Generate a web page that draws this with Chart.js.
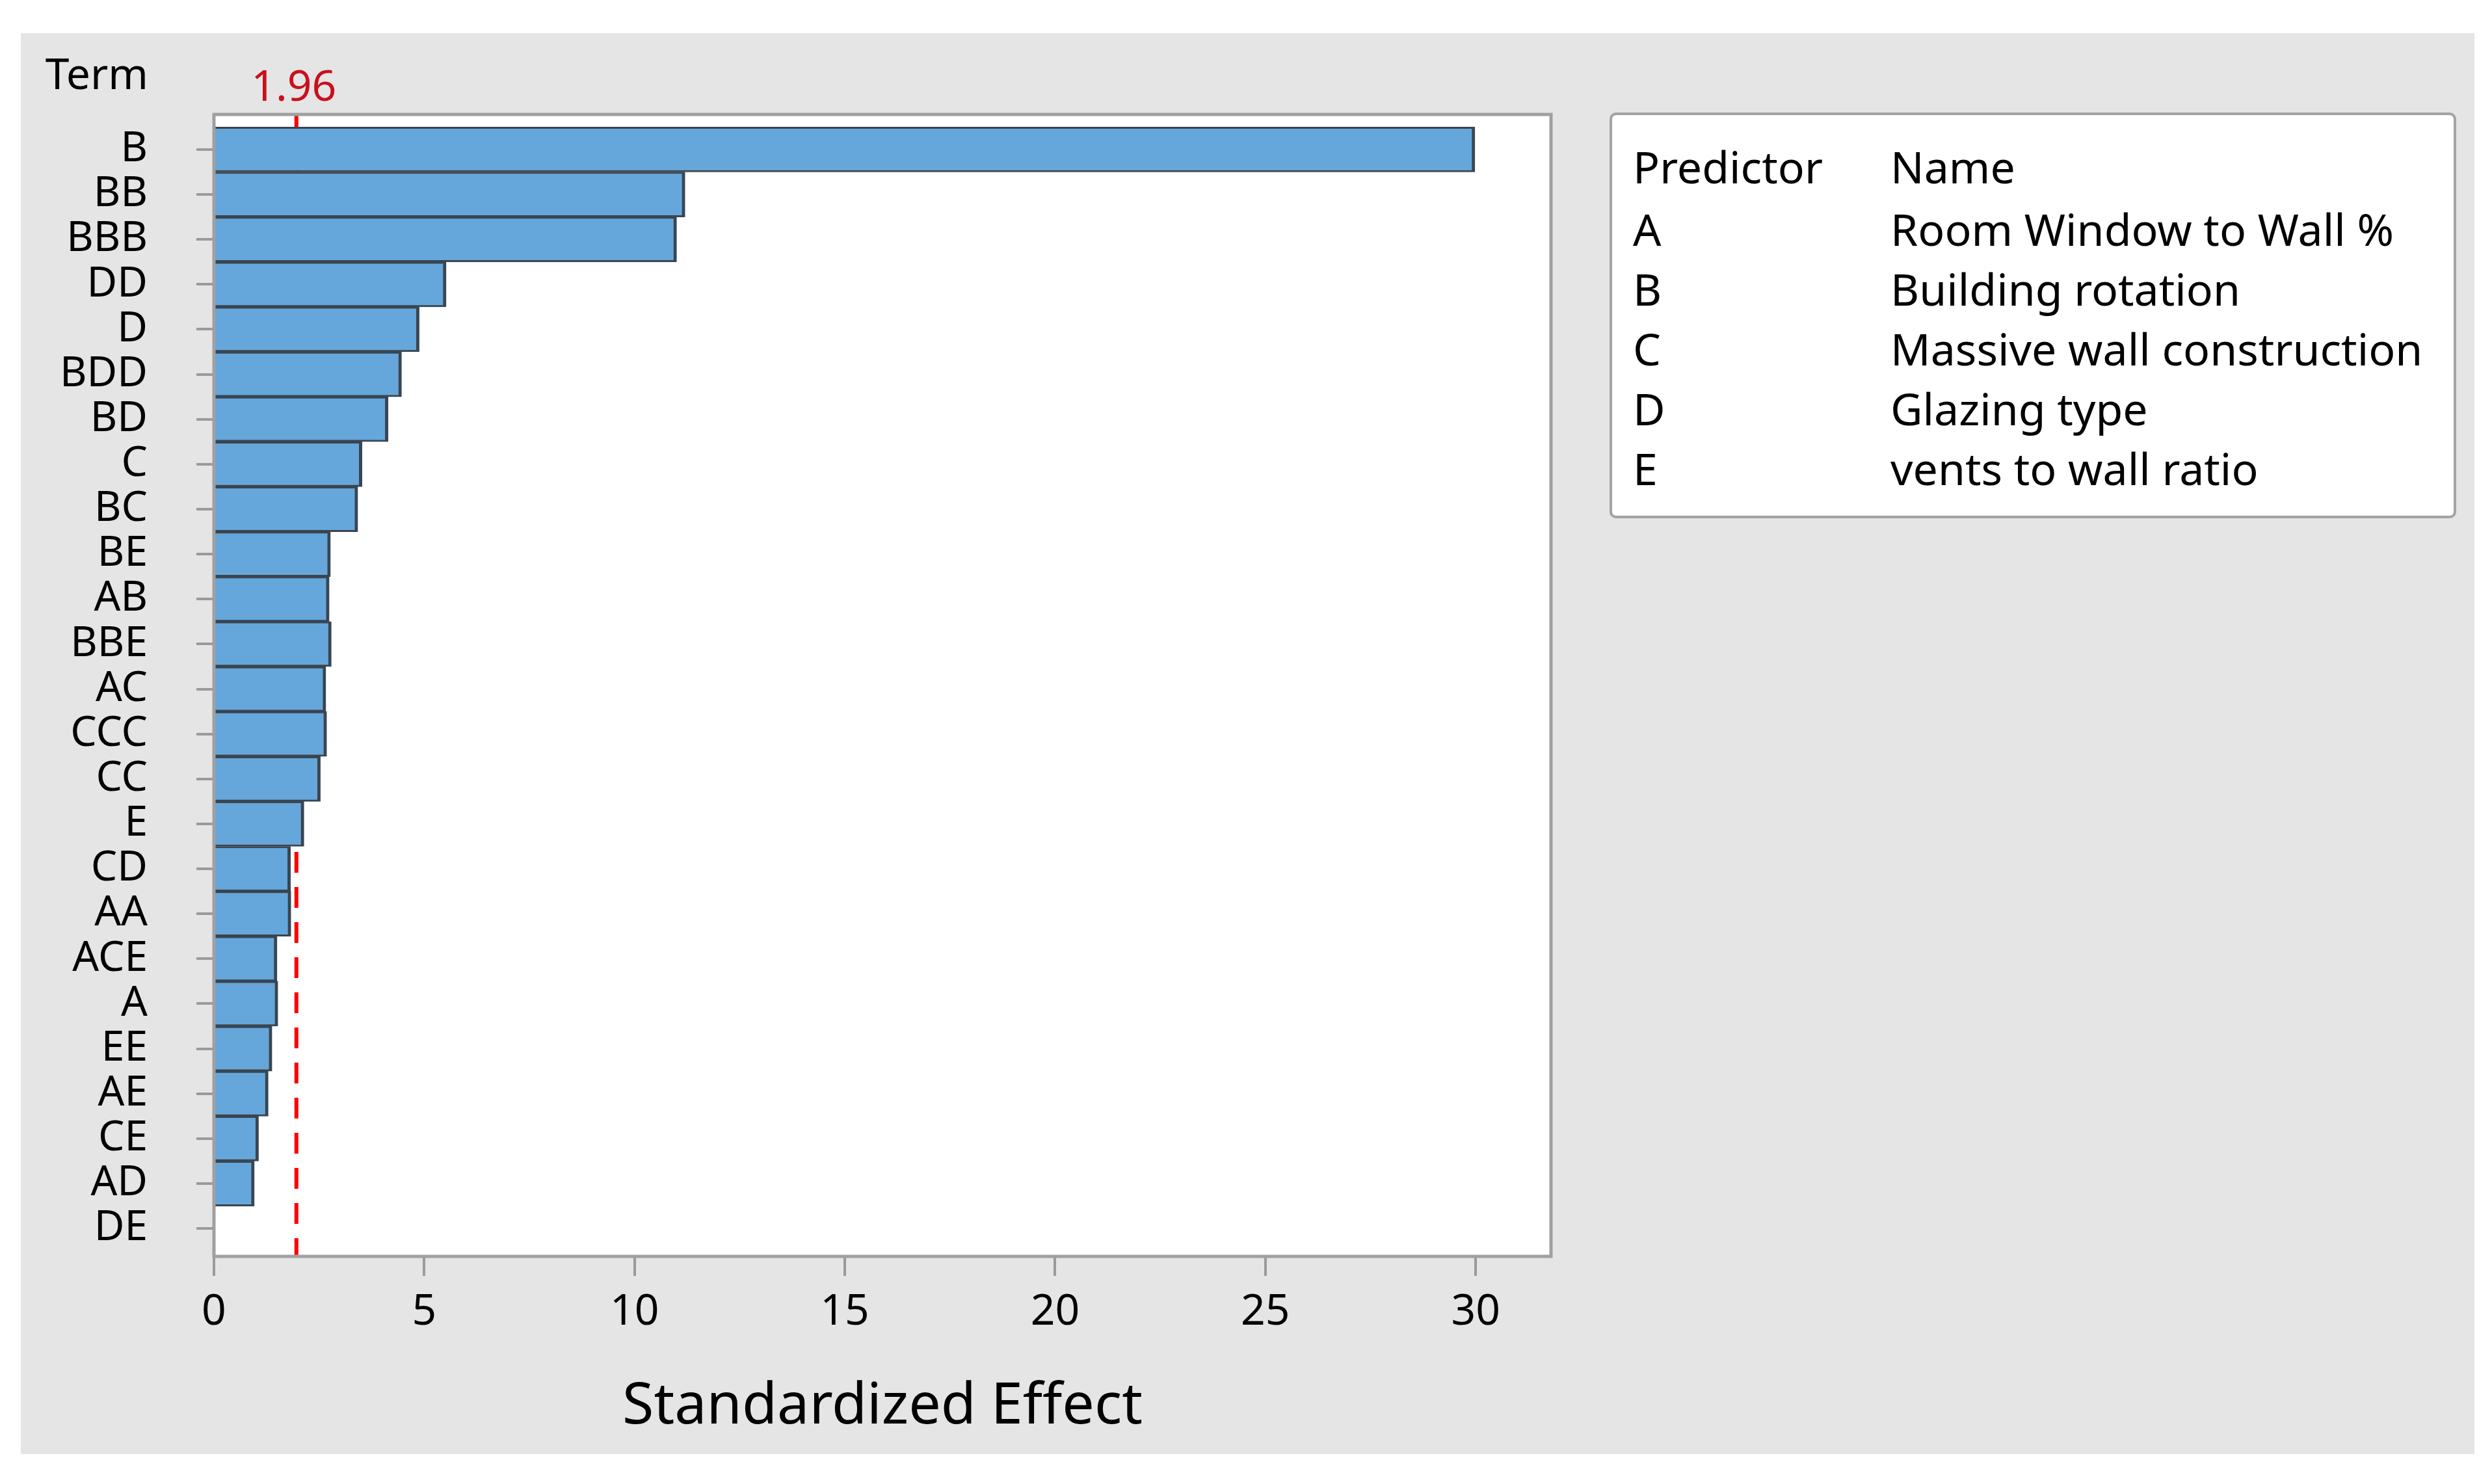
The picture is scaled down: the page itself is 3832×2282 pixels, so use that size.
<!DOCTYPE html>
<html lang="en">
<head>
  <meta charset="UTF-8">
  <title>Pareto Chart of the Standardized Effects</title>
  <script src="https://cdn.jsdelivr.net/npm/chart.js"></script>
  <style>
    body { margin: 0; background: #fff; }
    canvas { display: block; }
  </style>
</head>
<body>
  <canvas id="pareto" width="3832" height="2282"></canvas>

  <script>
    // terms, top to bottom
    const terms = ['B', 'BB', 'BBB', 'DD', 'D', 'BDD', 'BD', 'C', 'BC', 'BE', 'AB', 'BBE', 'AC',
                   'CCC', 'CC', 'E', 'CD', 'AA', 'ACE', 'A', 'EE', 'AE', 'CE', 'AD', 'DE'];
    const effects = [29.98, 11.2, 11.0, 5.52, 4.88, 4.46, 4.14, 3.52, 3.42, 2.77, 2.74, 2.79, 2.66,
                     2.68, 2.53, 2.14, 1.82, 1.83, 1.50, 1.52, 1.38, 1.29, 1.06, 0.96, 0.03];
    const refValue = 1.96;
    const xTicks = [0, 5, 10, 15, 20, 25, 30];

    const predictorCodes = ['A', 'B', 'C', 'D', 'E'];
    const predictorNames = ['Room Window to Wall %', 'Building rotation', 'Massive wall construction',
                            'Glazing type', 'vents to wall ratio'];

    const FONT = '"Noto Sans", "Open Sans", sans-serif';

    const backdrop = {
      id: 'backdrop',
      beforeDraw(chart) {
        const { ctx, chartArea: a } = chart;
        ctx.save();
        ctx.fillStyle = '#e5e5e5';
        ctx.fillRect(32, 51, 3773, 2185);
        ctx.fillStyle = '#fff';
        ctx.fillRect(a.left, a.top, a.right - a.left, a.bottom - a.top);

        // predictor table box
        ctx.beginPath();
        ctx.roundRect(2477, 175, 1298, 620, 8);
        ctx.fill();
        ctx.lineWidth = 4;
        ctx.strokeStyle = '#a3a3a3';
        ctx.stroke();

        ctx.fillStyle = '#000';
        ctx.font = '68px ' + FONT;
        ctx.textBaseline = 'alphabetic';
        ctx.textAlign = 'left';
        ctx.fillText('Predictor', 2511, 282);
        ctx.fillText('Name', 2907, 282);
        predictorCodes.forEach((c, i) => {
          const y = 378 + i * 92;
          ctx.fillText(c, 2511, y);
          ctx.fillText(predictorNames[i], 2907, y);
        });
        ctx.restore();
      },
      beforeDatasetsDraw(chart) {
        const { ctx, chartArea: a, scales: { x } } = chart;
        const px = x.getPixelForValue(refValue);
        ctx.save();
        ctx.strokeStyle = '#ff0000';
        ctx.lineWidth = 6;
        ctx.setLineDash([32, 22]);
        ctx.beginPath();
        ctx.moveTo(px, a.top);
        ctx.lineTo(px, a.bottom);
        ctx.stroke();
        ctx.restore();
      },
      afterDatasetsDraw(chart) {
        const { ctx, chartArea: a, scales: { x } } = chart;
        ctx.save();
        ctx.strokeStyle = '#a0a0a0';
        ctx.lineWidth = 5;
        ctx.strokeRect(a.left, a.top, a.right - a.left, a.bottom - a.top);

        ctx.font = '66px ' + FONT;
        ctx.textBaseline = 'middle';
        ctx.fillStyle = '#000';
        ctx.textAlign = 'right';
        ctx.fillText('Term', 228, 118);
        ctx.fillStyle = '#c8101c';
        ctx.textAlign = 'center';
        ctx.fillText(refValue.toFixed(2), x.getPixelForValue(refValue) - 4, 136);
        ctx.restore();
      }
    };

    new Chart(document.getElementById('pareto'), {
      type: 'bar',
      data: {
        datasets: [{
          data: effects.map((v, i) => ({ x: v, y: i })),
          backgroundColor: '#66a7db',
          borderColor: '#3a4550',
          borderWidth: { top: 3, bottom: 3, right: 5, left: 0 },
          borderSkipped: 'start',
          barPercentage: 1,
          categoryPercentage: 1
        }]
      },
      options: {
        indexAxis: 'y',
        responsive: false,
        devicePixelRatio: 1,
        animation: false,
        layout: { padding: { top: 176, right: 1447, left: 0, bottom: 0 } },
        plugins: { legend: { display: false }, tooltip: { enabled: false } },
        scales: {
          x: {
            type: 'linear',
            min: 0,
            max: 31.79,
            afterFit(scale) { scale.height = 350; },
            afterBuildTicks(scale) { scale.ticks = xTicks.map(v => ({ value: v })); },
            grid: { drawOnChartArea: false, drawTicks: true, tickLength: 30, color: '#9a9a9a', lineWidth: 4 },
            border: { display: false },
            ticks: { font: { size: 66, family: FONT }, color: '#000', padding: 17, maxRotation: 0 },
            title: {
              display: true,
              text: 'Standardized Effect',
              font: { size: 88, family: FONT },
              color: '#000',
              padding: { top: 0, bottom: 65 }
            }
          },
          y: {
            type: 'linear',
            reverse: true,
            offset: false,
            min: -0.78,
            max: 24.62,
            afterFit(scale) { scale.width = 329; },
            afterBuildTicks(scale) { scale.ticks = terms.map((t, i) => ({ value: i })); },
            grid: { offset: false, drawOnChartArea: false, drawTicks: true, tickLength: 27, color: '#9a9a9a', lineWidth: 4 },
            border: { display: false },
            ticks: {
              autoSkip: false,
              font: { size: 64, family: FONT },
              color: '#000',
              padding: 75,
              callback: (value) => terms[value]
            }
          }
        }
      },
      plugins: [backdrop]
    });
  </script>
</body>
</html>
